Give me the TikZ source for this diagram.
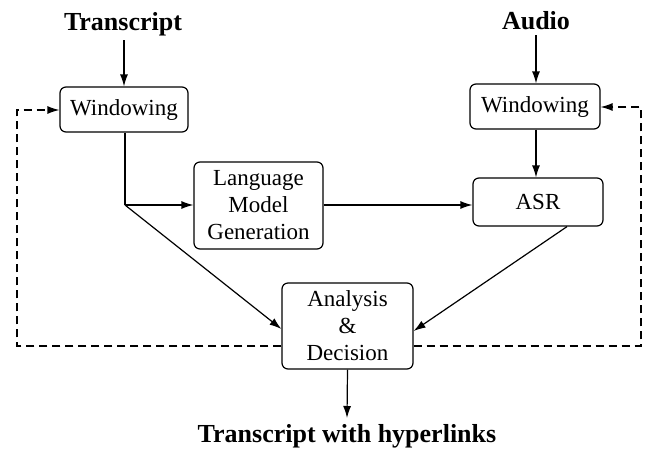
\documentclass[tikz,border=0pt]{standalone}
\usepackage{fontspec}
\setmainfont{Liberation Serif}
\usetikzlibrary{arrows.meta}
\begin{document}
\begin{tikzpicture}[x=1pt,y=-1pt,
  box/.style={draw,rounded corners=6pt,line width=1.2pt,inner sep=0pt,align=center,
    font=\fontsize{23}{27}\selectfont},
  heading/.style={inner sep=0pt,font=\fontsize{26}{30}\selectfont\bfseries},
  flow/.style={line width=1.2pt,-{Latex[length=12pt,width=8pt]}},
  plain/.style={line width=1.2pt},
  feedback/.style={line width=1.2pt,dash pattern=on 8pt off 5pt,-{Latex[length=12pt,width=8pt]}}]
\useasboundingbox (0,0) rectangle (645,451);

% inputs and output
\node[heading] (transcript) at (123,24) {Transcript};
\node[heading] (audio) at (536,21) {Audio};
\node[heading] (result) at (347,436) {Transcript with hyperlinks};

% processing blocks
\node[box,minimum width=128pt,minimum height=45pt] (winL) at (124,109.5) {Windowing};
\node[box,minimum width=130pt,minimum height=45pt] (winR) at (535,106.5) {Windowing};
\node[box,minimum width=129pt,minimum height=87pt] (lm) at (258.5,205.5) {Language\\Model\\Generation};
\node[box,minimum width=130pt,minimum height=48pt] (asr) at (538,202) {ASR};
\node[box,minimum width=131pt,minimum height=86pt] (ad) at (347.5,326) {Analysis\\\&\\Decision};

% helper points
\coordinate (tIn) at (124,40);
\coordinate (aIn) at (536,35);
\coordinate (out) at (347,418);
\coordinate (split) at (125,205);
\coordinate (fbLt) at (17,110);
\coordinate (fbLb) at (17,346);
\coordinate (fbRt) at (641,107);
\coordinate (fbRb) at (641,346);

% main flow
\draw[flow] (tIn) -- (tIn |- winL.north);
\draw[flow] (aIn) -- (aIn |- winR.north);
\draw[flow] (winR.south -| aIn) -- (asr.north -| aIn);
\draw[plain] (winL.south -| split) -- (split);
\draw[flow] (split) -- (lm.west |- split);
\draw[flow] (split) -- (ad.west |- 0,329);
\draw[flow] (lm.east |- 0,205) -- (asr.west |- 0,205);
\draw[flow] (asr.south -| 567,0) -- (ad.east |- 0,331);
\draw[flow] (ad.south) -- (out);

% feedback loops
\draw[feedback] (ad.west |- fbLb) -- (fbLb) -- (fbLt) -- (winL.west |- fbLt);
\draw[feedback] (ad.east |- fbRb) -- (fbRb) -- (fbRt) -- (winR.east |- fbRt);
\end{tikzpicture}
\end{document}
